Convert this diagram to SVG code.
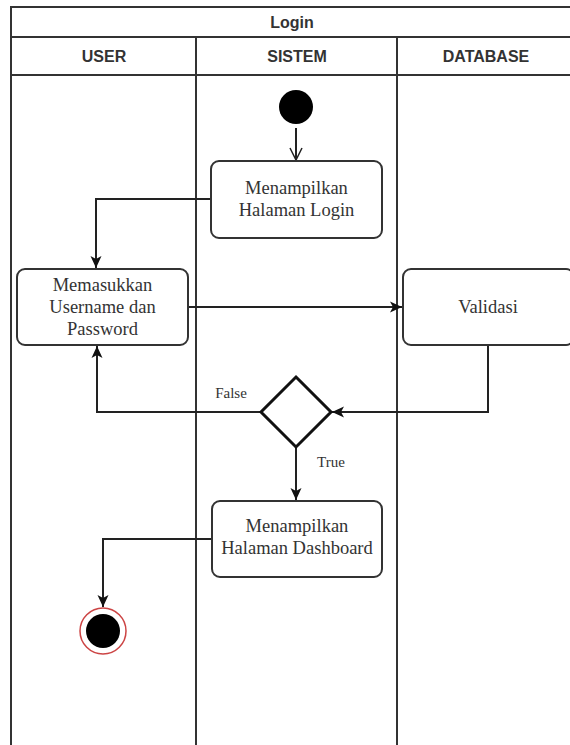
<svg xmlns="http://www.w3.org/2000/svg" width="570" height="745" viewBox="0 0 570 745">
<defs>
<style>
.frame{fill:none;stroke:#333;stroke-width:2}
.hdr{font-family:"Liberation Sans",Arial,sans-serif;font-size:16px;font-weight:bold;fill:#333;text-anchor:middle}
.box{fill:#fff;stroke:#333;stroke-width:2}
.txt{font-family:"Liberation Serif","Times New Roman",serif;font-size:18.5px;fill:#333;text-anchor:middle}
.lbl{font-family:"Liberation Serif","Times New Roman",serif;font-size:15px;fill:#333;text-anchor:middle}
.edge{fill:none;stroke:#222;stroke-width:2}
</style>
<marker id="arr" markerUnits="userSpaceOnUse" markerWidth="14" markerHeight="14" viewBox="0 0 14 14" refX="13" refY="7" orient="auto">
<path d="M1,1.5 L13,7 L1,12.5 L4,7 Z" fill="#111"/>
</marker>
<marker id="open" markerUnits="userSpaceOnUse" markerWidth="14" markerHeight="14" viewBox="0 0 14 14" refX="13" refY="7" orient="auto">
<path d="M1,1 L13,7 L1,13" fill="none" stroke="#222" stroke-width="1.5"/>
</marker>
</defs>
<rect width="570" height="745" fill="#fff"/>
<g id="swimlane">
<line class="frame" x1="11" y1="7" x2="580" y2="7"/>
<line class="frame" x1="11" y1="37" x2="580" y2="37"/>
<line class="frame" x1="11" y1="75" x2="580" y2="75"/>
<line class="frame" x1="11" y1="6" x2="11" y2="745"/>
<line class="frame" x1="196" y1="37" x2="196" y2="745"/>
<line class="frame" x1="397" y1="37" x2="397" y2="745"/>
<text class="hdr" x="292" y="28">Login</text>
<text class="hdr" x="104" y="62">USER</text>
<text class="hdr" x="297" y="62">SISTEM</text>
<text class="hdr" x="486" y="62">DATABASE</text>
</g>
<g id="connectors">
<line class="edge" x1="296" y1="128" x2="296" y2="160" marker-end="url(#open)"/>
<path class="edge" d="M211,199 H96 V268" marker-end="url(#arr)"/>
<path class="edge" d="M188,307 H402" marker-end="url(#arr)"/>
<path class="edge" d="M488,345 V412 H332" marker-end="url(#arr)"/>
<path class="edge" d="M261,412 H97 V346" marker-end="url(#arr)"/>
<path class="edge" d="M296,447 V500" marker-end="url(#arr)"/>
<path class="edge" d="M212,539 H103 V607" marker-end="url(#arr)"/>
<text class="lbl" x="231" y="398">False</text>
<text class="lbl" x="331" y="467">True</text>
</g>
<g id="start">
<circle cx="296" cy="107" r="17" fill="#000"/>
</g>
<g id="tampil-login">
<rect class="box" x="211" y="161" width="171" height="77" rx="8"/>
<text class="txt" x="296.5" y="194">Menampilkan</text>
<text class="txt" x="296.5" y="216">Halaman Login</text>
</g>
<g id="input">
<rect class="box" x="17" y="269" width="171" height="76" rx="8"/>
<text class="txt" x="102.5" y="291">Memasukkan</text>
<text class="txt" x="102.5" y="313">Username dan</text>
<text class="txt" x="102.5" y="335">Password</text>
</g>
<g id="validasi">
<rect class="box" x="403" y="269" width="171" height="76" rx="8"/>
<text class="txt" x="488" y="313">Validasi</text>
</g>
<g id="decision">
<polygon points="296,377 331,412 296,447 261,412" fill="#fff" stroke="#111" stroke-width="3"/>
</g>
<g id="tampil-dashboard">
<rect class="box" x="212" y="501" width="170" height="76" rx="8"/>
<text class="txt" x="297" y="532">Menampilkan</text>
<text class="txt" x="297" y="554">Halaman Dashboard</text>
</g>
<g id="end">
<circle cx="103" cy="631" r="23" fill="#fff" stroke="#c44" stroke-width="1.5"/>
<circle cx="103" cy="631" r="17" fill="#000"/>
</g>
</svg>
